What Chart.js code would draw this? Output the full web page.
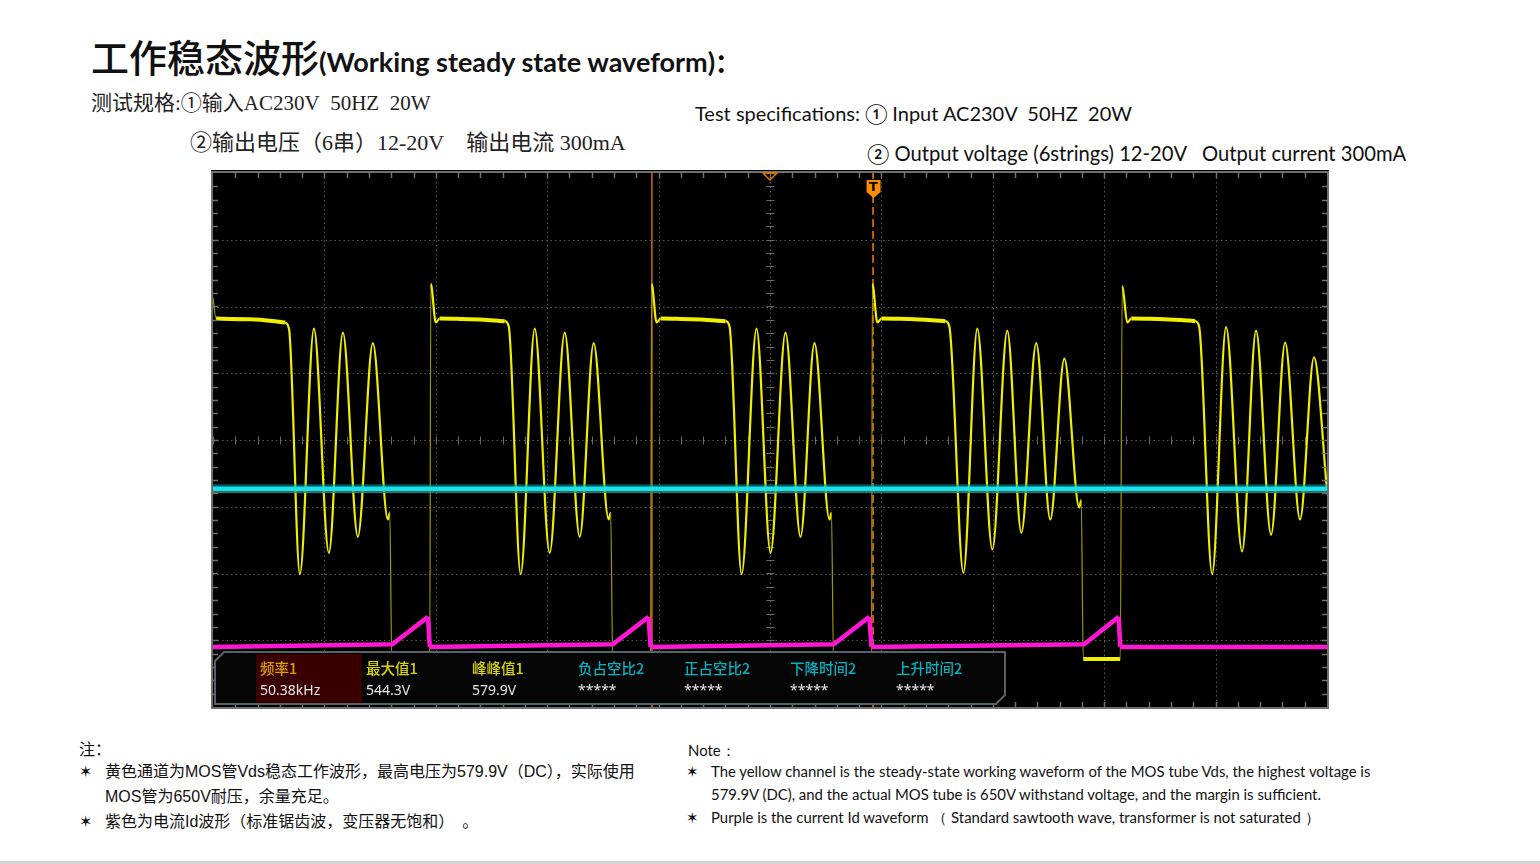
<!DOCTYPE html>
<html>
<head>
<meta charset="utf-8">
<script src="https://cdn.jsdelivr.net/npm/chart.js@4.4.1/dist/chart.umd.min.js"></script>
<style>
  html, body { margin: 0; padding: 0; background: #fff; }
  body { width: 1540px; height: 864px; position: relative; overflow: hidden; }
  .abs { position: absolute; white-space: nowrap; }
  .cn { font-family: "Noto Sans CJK SC", sans-serif; }
  .song { font-family: "Liberation Serif", "Noto Sans CJK SC", serif; font-size: 22px; line-height: 28px; color: #222; }
  .en { font-family: Lato, "Noto Sans", sans-serif; color: #111; }
  .noteCn { font-family: "Liberation Sans", "Noto Sans CJK SC", sans-serif; font-size: 16px; line-height: 20px; color: #111; }
  .noteEn { font-family: Lato, "Noto Sans", sans-serif; font-size: 14.9px; line-height: 20px; color: #111; }
  #scope { position: absolute; left: 211px; top: 170px; }
  #edge { position: absolute; left: 0; top: 861px; width: 1540px; height: 3px; background: #d4d4d4; }
</style>
</head>
<body>

<div class="abs" style="left:91px; top:34px; line-height:44px;">
  <span class="cn" style="font-size:38px; font-weight:500; color:#111;">工作稳态波形</span><span class="en" style="font-size:27px; font-weight:bold;">(Working steady state waveform)</span><span class="cn" style="font-size:25px; font-weight:bold;">：</span>
</div>

<div class="abs song" style="left:91px; top:89px; font-size:21px;">测试规格:①输入AC230V&nbsp; 50HZ&nbsp; 20W</div>
<div class="abs song" style="left:190px; top:129px;">②输出电压（6串）12-20V&nbsp;&nbsp;&nbsp; 输出电流 300mA</div>

<div class="abs en" style="left:695px; top:99px; font-size:20px; line-height:28px;">Test specifications: ① Input AC230V&nbsp; 50HZ&nbsp; 20W</div>
<div class="abs en" style="left:867px; top:139px; font-size:20.2px; line-height:28px;">② Output voltage (6strings) 12-20V&nbsp;&nbsp; Output current 300mA</div>

<canvas id="scope" width="1118" height="539"></canvas>

<div class="abs noteCn" style="left:79px; top:740px;">注：</div>
<div class="abs noteCn" style="left:79px; top:762px;">✶</div>
<div class="abs noteCn" style="left:105px; top:762px;">黄色通道为MOS管Vds稳态工作波形，最高电压为579.9V（DC），实际使用</div>
<div class="abs noteCn" style="left:105px; top:787px;">MOS管为650V耐压，余量充足。</div>
<div class="abs noteCn" style="left:79px; top:812px;">✶</div>
<div class="abs noteCn" style="left:105px; top:812px;">紫色为电流Id波形（标准锯齿波，变压器无饱和）　。</div>

<div class="abs noteEn" style="left:688px; top:740px;">Note：</div>
<div class="abs noteEn" style="left:686px; top:761px;">✶</div>
<div class="abs noteEn" style="left:711px; top:761px;">The yellow channel is the steady-state working waveform of the MOS tube Vds, the highest voltage is</div>
<div class="abs noteEn" style="left:711px; top:784px;">579.9V (DC), and the actual MOS tube is 650V withstand voltage, and the margin is sufficient.</div>
<div class="abs noteEn" style="left:686px; top:807px;">✶</div>
<div class="abs noteEn" style="left:711px; top:807px;">Purple is the current Id waveform （ Standard sawtooth wave, transformer is not saturated ）</div>

<div id="edge"></div>

<script>
// time axis in microseconds (10 us/div, 10 div), vertical axis in divisions (-4..4)
const vdsTime = [
  0, 0.27, 3.32, 6.46, 6.82, 7.80, 9.06, 10.40, 11.66, 13.00, 14.35, 15.70, 15.87, 16.05, 19.46,
  19.55, 20.00, 20.35, 23.05, 26.19, 26.55, 27.62, 28.88, 30.22, 31.57, 32.92, 34.17, 35.52, 35.70, 35.88, 39.28,
  39.37, 39.82, 40.18, 42.87, 46.01, 46.37, 47.45, 48.79, 50.05, 51.39, 52.74, 53.99, 55.34, 55.52, 55.70, 59.11,
  59.19, 59.64, 60.00, 62.96, 65.74, 66.10, 67.36, 68.61, 69.96, 71.30, 72.56, 73.90, 75.16, 76.42, 77.76, 77.94, 78.12, 81.44,
  81.62, 82.07, 82.43, 85.39, 88.16, 88.52, 89.69, 90.94, 92.38, 93.63, 94.98, 96.24, 97.58, 98.83, 100
];
const vdsLevel = [
  2.13, 1.82, 1.81, 1.76, 1.67, -2.01, 1.67, -1.69, 1.61, -1.45, 1.45, -1.19, -1.09, -3.28, -3.28,
  2.34, 1.76, 1.82, 1.81, 1.78, 1.70, -2.01, 1.67, -1.69, 1.61, -1.45, 1.45, -1.19, -1.09, -3.28, -3.28,
  2.34, 1.76, 1.82, 1.81, 1.78, 1.70, -2.01, 1.67, -1.69, 1.61, -1.45, 1.45, -1.19, -1.09, -3.28, -3.28,
  2.34, 1.76, 1.82, 1.81, 1.78, 1.70, -1.99, 1.67, -1.64, 1.64, -1.39, 1.45, -1.19, 1.22, -1.01, -0.90, -3.28, -3.28,
  2.31, 1.76, 1.82, 1.81, 1.78, 1.70, -2.01, 1.69, -1.67, 1.64, -1.42, 1.46, -1.19, 1.24, -0.75
];

const idTime  = [0, 16.10, 19.30, 19.46, 35.90, 39.10, 39.28, 55.72, 58.92, 59.11, 78.20, 81.30, 81.44, 100];
const idLevel = [-3.10, -3.06, -2.65, -3.10, -3.06, -2.65, -3.10, -3.06, -2.65, -3.10, -3.06, -2.65, -3.10, -3.10];

const ch2Time  = [0, 100];
const ch2Level = [-0.73, -0.73];
const ch2Marker = -0.78;

const cursorTime = 39.4;
const triggerTime = 59.25;

const measLabels = ["频率1", "最大值1", "峰峰值1", "负占空比2", "正占空比2", "下降时间2", "上升时间2"];
const measValues = ["50.38kHz", "544.3V", "579.9V", "*****", "*****", "*****", "*****"];
const measColors = ["#dca000", "#d8d400", "#d8d400", "#00b4c4", "#00b4c4", "#00b4c4", "#00b4c4"];

function pts(xs, ys) {
  return xs.map((x, i) => ({ x: x, y: ys[i] }));
}

function steep(ctx) {
  const dx = Math.abs(ctx.p1.x - ctx.p0.x);
  const dy = Math.abs(ctx.p1.y - ctx.p0.y);
  return dx < 4 && dy > 20;
}

const scopePlugin = {
  id: "scope",
  beforeDraw(chart) {
    const c = chart.ctx;
    c.save();
    c.fillStyle = "#000";
    c.fillRect(0, 0, chart.width, chart.height);
    c.restore();
  },
  beforeDatasetsDraw(chart) {
    const c = chart.ctx, a = chart.chartArea;
    const xs = chart.scales.x, ys = chart.scales.y;
    c.save();
    c.strokeStyle = "#5a5a5a";
    c.lineWidth = 1;
    c.setLineDash([1.5, 3]);
    for (let t = 10; t < 100; t += 10) {
      const px = Math.round(xs.getPixelForValue(t)) + 0.5;
      c.beginPath(); c.moveTo(px, a.top); c.lineTo(px, a.bottom); c.stroke();
    }
    for (let v = -3; v <= 3; v++) {
      const py = Math.round(ys.getPixelForValue(v)) + 0.5;
      c.beginPath(); c.moveTo(a.left, py); c.lineTo(a.right, py); c.stroke();
    }
    // centre cross ticks
    c.setLineDash([]);
    c.strokeStyle = "#6a6a6a";
    const cx = Math.round(xs.getPixelForValue(50)) + 0.5;
    const cy = Math.round(ys.getPixelForValue(0)) + 0.5;
    for (let v = -4; v <= 4.001; v += 0.2) {
      const py = Math.round(ys.getPixelForValue(v)) + 0.5;
      c.beginPath(); c.moveTo(cx - 4, py); c.lineTo(cx + 4, py); c.stroke();
    }
    for (let t = 0; t <= 100.01; t += 2) {
      const px = Math.round(xs.getPixelForValue(t)) + 0.5;
      c.beginPath(); c.moveTo(px, cy - 4); c.lineTo(px, cy + 4); c.stroke();
    }
    c.restore();
  },
  afterDatasetsDraw(chart) {
    const c = chart.ctx, a = chart.chartArea;
    const xs = chart.scales.x, ys = chart.scales.y;
    c.save();
    // frame and edge ticks
    c.strokeStyle = "#707070";
    c.lineWidth = 2;
    c.strokeRect(a.left - 1, a.top - 1, a.right - a.left + 2, a.bottom - a.top + 2);
    c.lineWidth = 1.5;
    for (let t = 2; t < 100; t += 2) {
      const px = Math.round(xs.getPixelForValue(t)) + 0.5;
      c.beginPath(); c.moveTo(px, a.top); c.lineTo(px, a.top + 5); c.stroke();
      c.beginPath(); c.moveTo(px, a.bottom); c.lineTo(px, a.bottom - 5); c.stroke();
    }
    for (let v = -3.8; v < 4; v += 0.2) {
      const py = Math.round(ys.getPixelForValue(v)) + 0.5;
      c.beginPath(); c.moveTo(a.left, py); c.lineTo(a.left + 5, py); c.stroke();
      c.beginPath(); c.moveTo(a.right, py); c.lineTo(a.right - 5, py); c.stroke();
    }
    // horizontal position marker (top centre)
    const mx = xs.getPixelForValue(50);
    c.strokeStyle = "#e07800";
    c.lineWidth = 1.5;
    c.beginPath();
    c.moveTo(mx - 7, a.top); c.lineTo(mx + 7, a.top); c.lineTo(mx, a.top + 7); c.closePath();
    c.stroke();
    // trigger marker
    const tx = xs.getPixelForValue(triggerTime) + 0.5;
    c.fillStyle = "#ff8c00";
    c.beginPath();
    c.moveTo(tx - 7, a.top + 7); c.lineTo(tx + 7, a.top + 7); c.lineTo(tx + 7, a.top + 19);
    c.lineTo(tx, a.top + 25); c.lineTo(tx - 7, a.top + 19); c.closePath();
    c.fill();
    c.fillStyle = "#000";
    c.font = "bold 13px 'DejaVu Sans'";
    c.textAlign = "center";
    c.textBaseline = "middle";
    c.fillText("T", tx, a.top + 15);

    // measurement panel
    const L = 4, T = 482, R = 794, B = 534;
    c.beginPath();
    c.moveTo(L + 9, T); c.lineTo(R, T); c.lineTo(R, B - 9); c.lineTo(R - 9, B);
    c.lineTo(L, B); c.lineTo(L, T + 9); c.closePath();
    c.fillStyle = "#050505";
    c.fill();
    c.strokeStyle = "#56636a";
    c.lineWidth = 2;
    c.stroke();
    c.fillStyle = "#3a0000";
    c.fillRect(45, T + 2, 106, B - T - 3);
    c.textAlign = "left";
    for (let i = 0; i < measLabels.length; i++) {
      const lx = 49 + i * 106;
      c.fillStyle = measColors[i];
      c.font = "500 14.5px 'Noto Sans CJK SC'";
      c.fillText(measLabels[i], lx, 498);
      c.fillStyle = "#e6e6e6";
      c.font = "14px 'Noto Sans'";
      c.fillText(measValues[i], lx, 521);
    }
    c.restore();
  }
};

const chart = new Chart(document.getElementById("scope").getContext("2d"), {
  type: "line",
  data: {
    datasets: [
      {
        label: "Id",
        data: pts(idTime, idLevel),
        borderColor: "#ff16d2",
        borderWidth: 4.5,
        tension: 0,
        segment: {
          borderWidth: ctx => steep(ctx) ? 0 : 4.5
        }
      },
      {
        label: "CH2",
        data: pts(ch2Time, ch2Level),
        borderColor: "#18e2ea",
        borderWidth: 4.5
      },
      {
        label: "CH2 halo",
        data: pts(ch2Time, ch2Level),
        borderColor: "rgba(0,150,165,0.55)",
        borderWidth: 9
      },
      {
        label: "CH2 ref",
        data: pts(ch2Time, [ch2Marker, ch2Marker]),
        borderColor: "#c8641e",
        borderWidth: 1.2
      },
      {
        label: "Vds",
        data: pts(vdsTime, vdsLevel),
        borderColor: "#f0ef00",
        borderWidth: 2.2,
        cubicInterpolationMode: "monotone",
        segment: {
          borderWidth: ctx => {
            if (steep(ctx)) return 1.2;
            const dx = Math.abs(ctx.p1.x - ctx.p0.x), dy = Math.abs(ctx.p1.y - ctx.p0.y);
            return dy < dx * 0.4 ? 4 : 2.2;
          },
          borderColor: ctx => steep(ctx) ? "#a09800" : "#f0ef00"
        }
      },
      {
        label: "cursor",
        data: pts([cursorTime, cursorTime], [-4, 4]),
        borderColor: "#d2691e",
        borderWidth: 1.5
      },
      {
        label: "trigger",
        data: pts([triggerTime, triggerTime], [-4, 4]),
        borderColor: "#ff7a00",
        borderWidth: 1.5,
        borderDash: [8, 4]
      }
    ]
  },
  options: {
    responsive: false,
    animation: false,
    devicePixelRatio: 1,
    layout: { padding: { left: 2, right: 2, top: 3, bottom: 2 } },
    elements: { point: { radius: 0 } },
    plugins: { legend: { display: false }, tooltip: { enabled: false } },
    scales: {
      x: { type: "linear", min: 0, max: 100, display: false },
      y: { type: "linear", min: -4, max: 4, display: false }
    }
  },
  plugins: [scopePlugin]
});
</script>
</body>
</html>
